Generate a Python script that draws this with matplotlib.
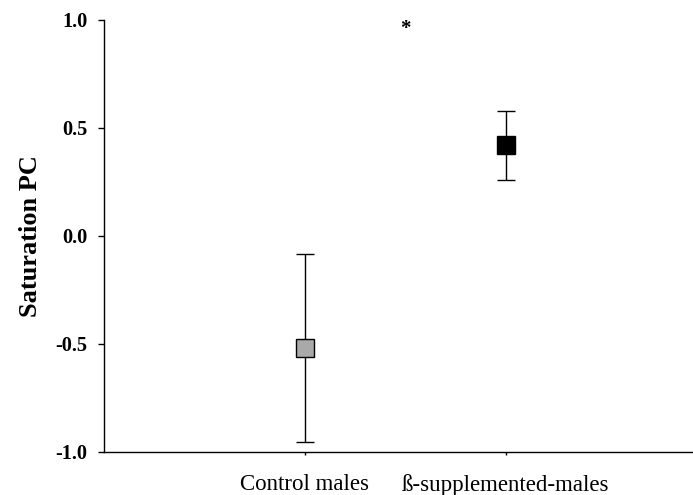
import matplotlib
matplotlib.use("Agg")
import matplotlib.pyplot as plt

# ── データ ──────────────────────────────────────────────
groups = ["Control males", "ß-supplemented-males"]
means  = [-0.52, 0.42]
errs   = [0.436, 0.16]
colors = ["#a9a9a9", "#000000"]
star_x, star_y = 1.5, 0.96

plt.rcParams["font.family"] = ["Liberation Serif", "DejaVu Serif"]

fig = plt.figure(figsize=(6.93, 4.95), dpi=100)
ax = fig.add_axes([0.150, 0.0869, 0.85, 0.8727])

xs = range(1, len(groups) + 1)
for x, m, e, c in zip(xs, means, errs, colors):
    ax.errorbar(x, m, yerr=e, fmt="none", ecolor="black",
                elinewidth=1.0, capsize=6.5, capthick=1.0, zorder=2)
    ax.plot(x, m, marker="s", markersize=13, markerfacecolor=c,
            markeredgecolor="black", markeredgewidth=1.0, zorder=3)

ax.text(star_x, star_y, "*", ha="center", va="center",
        fontsize=15, fontweight="bold")

ax.set_xlim(0, 2.93)
ax.set_ylim(-1.0, 1.0)
ax.set_xticks(list(xs))
ax.set_xticklabels(groups, fontsize=16.5)
ax.set_yticks([-1.0, -0.5, 0.0, 0.5, 1.0])
ax.set_yticklabels(["-1.0", "-0.5", "0.0", "0.5", "1.0"],
                   fontsize=14.6, fontweight="bold")
ax.tick_params(axis="y", direction="out", length=4.3, width=1.0, pad=7.5)
ax.tick_params(axis="x", direction="out", length=2.2, width=1.0, pad=13.5)

ax.set_ylabel("Saturation PC", fontsize=19, fontweight="bold", labelpad=10)

for s in ["top", "right"]:
    ax.spines[s].set_visible(False)
for s in ["left", "bottom"]:
    ax.spines[s].set_linewidth(1.0)

fig.savefig("out.png", dpi=100)
